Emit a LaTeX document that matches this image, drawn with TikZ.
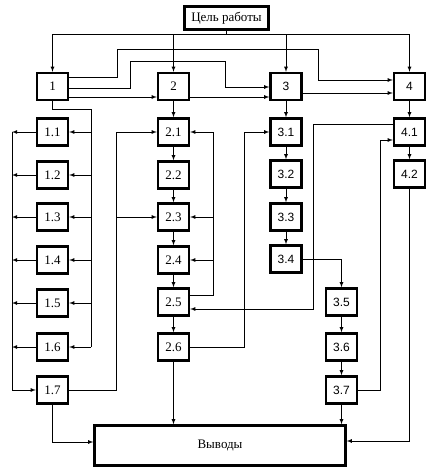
\documentclass[tikz,border=0pt]{standalone}
\usepackage{fontspec}
\setmainfont{Liberation Serif}
\newfontfamily\arialfont{Liberation Sans}
\usetikzlibrary{arrows}

\begin{document}
\begin{tikzpicture}[>=latex,x=1pt,y=-1pt,line width=0.8pt]
	\tikzset{
		blk/.style={draw,line width=2.4pt,minimum width=31pt,minimum height=27pt,
			inner sep=1pt,font=\fontsize{13}{15}\selectfont},
		blks/.style={blk,font=\arialfont\fontsize{12}{14}\selectfont}
	}
	\useasboundingbox (0,0) rectangle (439,475);
	% top level
	\node[blk,minimum width=84pt,minimum height=23pt] (goal) at (226.5,18) {Цель работы};
	\node[blk] (n1) at (52.5,86.5) {1};
	\node[blk] (n2) at (173.5,86.5) {2};
	\node[blks] (n3) at (286,86.5) {3};
	\node[blks] (n4) at (409.5,86.5) {4};
	% columns
	\foreach \i/\y in {1/132,2/175,3/217,4/260,5/303,6/347,7/390}
		\node[blk] (n1\i) at (52.5,\y) {1.\i};
	\foreach \i/\y in {1/132,2/175,3/217,4/260,5/302,6/347}
		\node[blk] (n2\i) at (173.5,\y) {2.\i};
	\foreach \i/\y in {1/132,2/174,3/217,4/259}
		\node[blks] (n3\i) at (286,\y) {3.\i};
	\foreach \i/\y in {5/302,6/347,7/390}
		\node[blks] (n3\i) at (341.5,\y) {3.\i};
	\foreach \i/\y in {1/132,2/174}
		\node[blks] (n4\i) at (409.5,\y) {4.\i};
	\node[blk,minimum width=251pt,minimum height=40pt] (out) at (220,445.5) {Выводы};

	% from the goal
	\coordinate (bus) at (goal.south |- 0,34);
	\draw (goal.south) -- (bus);
	\foreach \n in {n1,n2,n3,n4}
		\draw[->] (bus) -| (\n);
	% top row links
	\draw[->] (n1.east |- 0,77) -| (117,49) -| (318,80) -- (n4.west |- 0,80);
	\draw[->] (n1.east |- 0,88) -| (130,61) -| (225,87) -- (n3.west |- 0,87);
	\draw[->] (n1.east |- 0,97) -- (n2.west |- 0,97);
	\draw[->] (n2.east |- 0,97) -- (n3.west |- 0,97);
	\draw[->] (n3.east |- 0,93) -- (n4.west |- 0,93);
	% vertical chains
	\foreach \a/\b in {n2/n21,n21/n22,n22/n23,n23/n24,n24/n25,n25/n26,
			n3/n31,n31/n32,n32/n33,n33/n34,n35/n36,n36/n37,n4/n41,n41/n42}
		\draw[->] (\a) -- (\b);
	% column 1
	\draw (n1.south) |- (91,109) -- (91,347);
	\foreach \i in {1,...,6}{
		\draw[->] (n1\i.east -| 91,0) -- (n1\i.east);
		\draw[->] (n1\i.west) -- (n1\i.west -| 12,0);
	}
	\draw[->] (n11.west -| 12,0) |- (n17.west);
	\draw[->] (n17.east) -| (n21.west -| 116,0) -- (n21.west);
	\draw[->] (n23.west -| 116,0) -- (n23.west);
	\draw[->] (n17.south) |- (out.west |- 0,442);
	% column 2
	\draw (n25.east |- 0,295) -| (213,132);
	\foreach \n in {n21,n23,n24}
		\draw[->] (\n.east -| 213,0) -- (\n.east);
	\draw[->] (n41.west |- 0,124) -| (313,309) -- (n25.east |- 0,309);
	\draw[->] (n26.east) -| (n31.west -| 244,0) -- (n31.west);
	\draw[->] (n26.south) -- (n26.south |- out.north);
	% column 3
	\draw[->] (n34.east) -| (n35);
	\draw[->] (n37.south) -- (n37.south |- out.north);
	\draw[->] (n37.east) -| (380,140) -- (n41.west |- 0,140);
	% column 4
	\draw[->] (n42.south) |- (out.east |- 0,441);
\end{tikzpicture}
\end{document}
